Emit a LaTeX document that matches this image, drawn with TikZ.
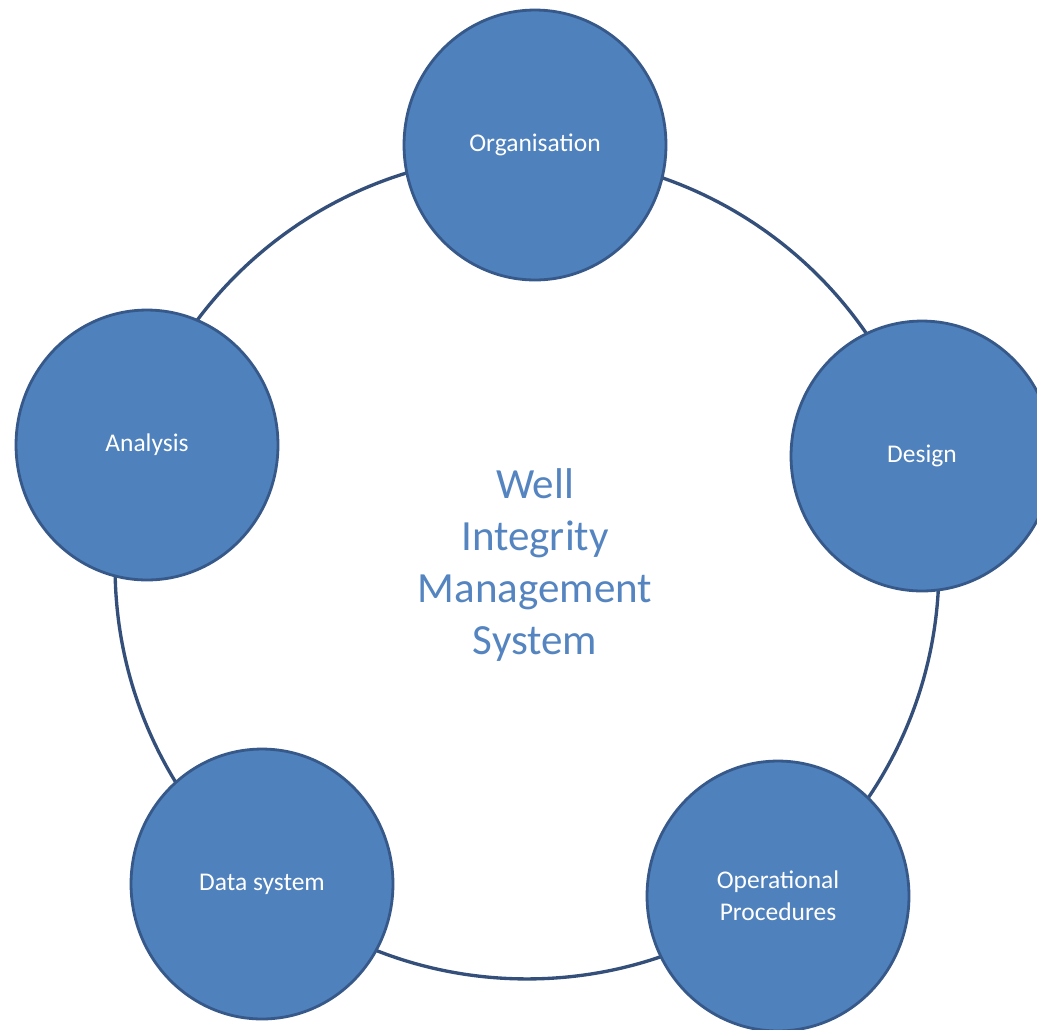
\documentclass[tikz,border=0pt]{standalone}
\usepackage{fontspec}
\usetikzlibrary{shapes.geometric}
\setmainfont{Carlito}
\definecolor{bfill}{HTML}{4F81BD}
\definecolor{bline}{HTML}{36598A}
\definecolor{rline}{HTML}{34507A}
\definecolor{ctext}{HTML}{5585C0}
\begin{document}
\begin{tikzpicture}[x=0.02cm,y=-0.02cm,
  part/.style={ellipse,fill=bfill,draw=bline,line width=1.6pt,minimum width=5.24cm,minimum height=5.4cm,inner sep=0pt,
    text=white,font=\fontsize{14.5}{18}\selectfont,align=center},
  ringstyle/.style={circle,draw=rline,line width=1.9pt,minimum size=16.48cm,inner sep=0pt}]
\useasboundingbox (0,0) rectangle (1037,1029);
\node[ringstyle] (ring) at (527,567) {};
\node[part] (org) at (535,145) {Organisation};
\node[part] (des) at (922,456) {Design};
\node[part] (ana) at (147,445) {Analysis};
\node[part] (dat) at (262,884) {Data system};
\node[part] (ops) at (778,896) {Operational\\Procedures};
\node[text=ctext,font=\fontsize{24.5}{29.6}\selectfont,align=center] (wims) at (535,565)
  {Well\\Integrity\\Management\\System};
\end{tikzpicture}
\end{document}
